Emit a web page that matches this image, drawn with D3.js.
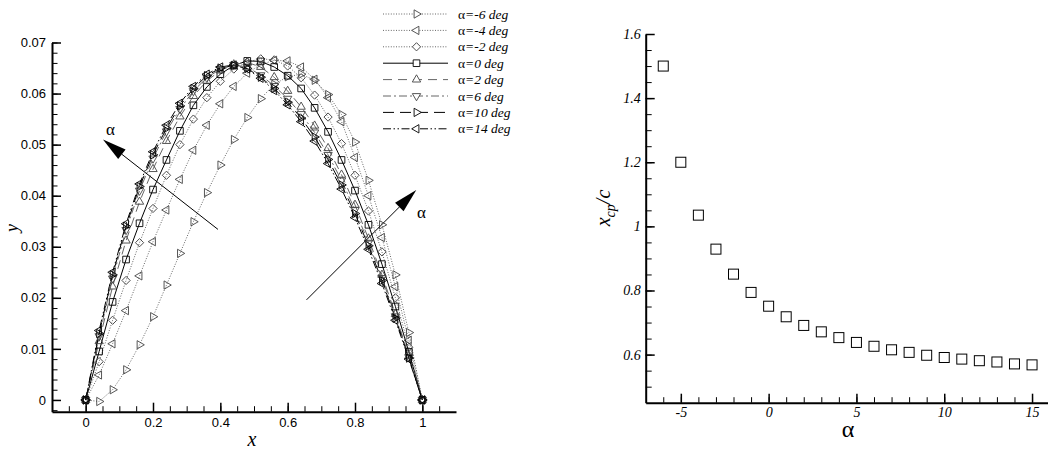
<!DOCTYPE html>
<html>
<head>
<meta charset="utf-8">
<script src="https://cdn.jsdelivr.net/npm/d3@7"></script>
<style>
  html, body { margin: 0; padding: 0; background: #fff; }
  svg { display: block; }
</style>
</head>
<body>
<svg id="chart" width="1048" height="450"></svg>
<script>
// ---- membrane shape data: y(x) for several angles of attack ----
const xStations = [0, 0.04, 0.08, 0.12, 0.16, 0.20, 0.24, 0.28, 0.32, 0.36, 0.40, 0.44, 0.48,
                   0.52, 0.56, 0.60, 0.64, 0.68, 0.72, 0.76, 0.80, 0.84, 0.88, 0.92, 0.96, 1.0];

const yAlphaM6 = [0, -0.0003, 0.0020, 0.0059, 0.0108, 0.0163, 0.0225, 0.0287, 0.0349, 0.0406, 0.0460, 0.0510, 0.0553,
                  0.0590, 0.0618, 0.0633, 0.0638, 0.0626, 0.0598, 0.0559, 0.0505, 0.0430, 0.0343, 0.0245, 0.0132, 0];
const yAlphaM4 = [0, 0.0049, 0.0110, 0.0175, 0.0243, 0.0310, 0.0372, 0.0432, 0.0489, 0.0538, 0.0580, 0.0614, 0.0640,
                  0.0657, 0.0665, 0.0664, 0.0652, 0.0628, 0.0592, 0.0545, 0.0475, 0.0400, 0.0318, 0.0222, 0.0117, 0];
const yAlphaM2 = [0, 0.0075, 0.0156, 0.0234, 0.0308, 0.0375, 0.0440, 0.0500, 0.0550, 0.0592, 0.0624, 0.0648, 0.0662,
                  0.0668, 0.0666, 0.0654, 0.0631, 0.0597, 0.0554, 0.0502, 0.0440, 0.0370, 0.0290, 0.0200, 0.0103, 0];
const yAlpha0  = [0, 0.0095, 0.0192, 0.0275, 0.0346, 0.0412, 0.0470, 0.0527, 0.0577, 0.0613, 0.0638, 0.0655, 0.0664,
                  0.0663, 0.0652, 0.0635, 0.0610, 0.0572, 0.0525, 0.0470, 0.0410, 0.0343, 0.0266, 0.0183, 0.0094, 0];
const yAlpha2  = [0, 0.0115, 0.0222, 0.0312, 0.0388, 0.0452, 0.0507, 0.0555, 0.0595, 0.0625, 0.0645, 0.0657, 0.0661,
                  0.0652, 0.0632, 0.0605, 0.0574, 0.0537, 0.0493, 0.0441, 0.0382, 0.0316, 0.0245, 0.0168, 0.0086, 0];
const yAlpha6  = [0, 0.0125, 0.0238, 0.0333, 0.0410, 0.0473, 0.0526, 0.0570, 0.0605, 0.0631, 0.0648, 0.0656, 0.0652,
                  0.0636, 0.0615, 0.0590, 0.0560, 0.0524, 0.0480, 0.0430, 0.0372, 0.0308, 0.0239, 0.0164, 0.0084, 0];
const yAlpha10 = [0, 0.0130, 0.0245, 0.0340, 0.0418, 0.0480, 0.0532, 0.0576, 0.0610, 0.0635, 0.0650, 0.0655, 0.0649,
                  0.0632, 0.0610, 0.0583, 0.0552, 0.0515, 0.0471, 0.0421, 0.0365, 0.0302, 0.0234, 0.0160, 0.0082, 0];
const yAlpha14 = [0, 0.0136, 0.0250, 0.0345, 0.0423, 0.0486, 0.0538, 0.0581, 0.0614, 0.0638, 0.0652, 0.0656, 0.0648,
                  0.0630, 0.0606, 0.0578, 0.0545, 0.0507, 0.0463, 0.0413, 0.0357, 0.0295, 0.0228, 0.0156, 0.0080, 0];

const seriesLabels = ["=-6 deg", "=-4 deg", "=-2 deg", "=0 deg", "=2 deg", "=6 deg", "=10 deg", "=14 deg"];

// ---- centre of pressure vs angle of attack ----
const cpAlpha = [-6, -5, -4, -3, -2, -1, 0, 1, 2, 3, 4, 5, 6, 7, 8, 9, 10, 11, 12, 13, 14, 15];
const cpXc    = [1.50, 1.20, 1.035, 0.929, 0.851, 0.794, 0.751, 0.718, 0.691, 0.671, 0.653,
                 0.638, 0.626, 0.615, 0.607, 0.598, 0.591, 0.586, 0.581, 0.577, 0.571, 0.568];

// ---- tick values ----
const shapeXTicks = [0, 0.2, 0.4, 0.6, 0.8, 1];
const shapeXTickLabels = ["0", "0.2", "0.4", "0.6", "0.8", "1"];
const shapeYTicks = [0, 0.01, 0.02, 0.03, 0.04, 0.05, 0.06, 0.07];
const shapeYTickLabels = ["0", "0.01", "0.02", "0.03", "0.04", "0.05", "0.06", "0.07"];
const cpXTicks = [-5, 0, 5, 10, 15];
const cpXTickLabels = ["-5", "0", "5", "10", "15"];
const cpYTicks = [0.6, 0.8, 1, 1.2, 1.4, 1.6];
const cpYTickLabels = ["0.6", "0.8", "1", "1.2", "1.4", "1.6"];

// ---- drawing ----
const svg = d3.select("#chart");
svg.append("rect").attr("width", 1048).attr("height", 450).attr("fill", "#fff");

const SANS = "'Liberation Sans', Arial, sans-serif";
const SERIF = "'Liberation Serif', 'Times New Roman', serif";

// series styling (line dash, colours, marker type)
const styles = [
  { y: yAlphaM6, dash: "1,1.6", line: "#666", mk: "#444", shape: "tri", rot: 90 },
  { y: yAlphaM4, dash: "1,1.6", line: "#666", mk: "#444", shape: "tri", rot: -90 },
  { y: yAlphaM2, dash: "1,1.6", line: "#666", mk: "#444", shape: "diamond", rot: 0 },
  { y: yAlpha0,  dash: null,    line: "#000", mk: "#000", shape: "square", rot: 0 },
  { y: yAlpha2,  dash: "9,6",   line: "#666", mk: "#444", shape: "tri", rot: 0 },
  { y: yAlpha6,  dash: "8,3,2,3", line: "#666", mk: "#444", shape: "tri", rot: 180 },
  { y: yAlpha10, dash: "11,6",  line: "#000", mk: "#000", shape: "tri", rot: 90 },
  { y: yAlpha14, dash: "8,2.5,1.5,2.5,1.5,2.5", line: "#000", mk: "#000", shape: "tri", rot: -90 }
];

function markerPath(shape) {
  if (shape === "tri") return d3.symbol(d3.symbolTriangle, 30)();
  if (shape === "diamond") return d3.symbol(d3.symbolSquare, 34)();
  return d3.symbol(d3.symbolSquare, 44)();
}
function markerRot(s) { return s.shape === "diamond" ? 45 : s.rot; }

// ===== left panel: shape =====
const xS = d3.scaleLinear().domain([-0.1, 1.1]).range([52, 456]);
const yS = d3.scaleLinear().domain([-0.0023, 0.07]).range([411.7, 42.5]);

const gL = svg.append("g");

function styleAxis(g, w) {
  g.select(".domain").attr("stroke", "#000").attr("stroke-width", w);
  g.selectAll(".tick line").attr("stroke", "#000").attr("stroke-width", 1.5);
}

// minor ticks
gL.append("g").attr("transform", "translate(0,411.7)")
  .call(d3.axisBottom(xS).tickValues(d3.range(-0.05, 1.1, 0.05)).tickSize(-5.5).tickFormat(""))
  .call(g => { g.select(".domain").remove(); g.selectAll(".tick line").attr("stroke", "#000").attr("stroke-width", 1); });
gL.append("g").attr("transform", "translate(52,0)")
  .call(d3.axisLeft(yS).tickValues(d3.range(-0.002, 0.0701, 0.002)).tickSize(-5.5).tickFormat(""))
  .call(g => { g.select(".domain").remove(); g.selectAll(".tick line").attr("stroke", "#000").attr("stroke-width", 1); });

// major axes
gL.append("g").attr("transform", "translate(0,411.7)")
  .call(d3.axisBottom(xS).tickValues(shapeXTicks).tickSize(-9).tickSizeOuter(0).tickPadding(6)
        .tickFormat((d, i) => shapeXTickLabels[i]))
  .call(g => styleAxis(g, 2))
  .call(g => g.selectAll("text").attr("font-family", SANS).attr("font-size", 13).attr("fill", "#000"));
gL.append("g").attr("transform", "translate(52,0)")
  .call(d3.axisLeft(yS).tickValues(shapeYTicks).tickSize(-9).tickSizeOuter(0).tickPadding(6)
        .tickFormat((d, i) => shapeYTickLabels[i]))
  .call(g => styleAxis(g, 2))
  .call(g => g.selectAll("text").attr("font-family", SANS).attr("font-size", 13).attr("fill", "#000"));

gL.append("text").attr("x", 252).attr("y", 446).attr("text-anchor", "middle")
  .attr("font-family", SERIF).attr("font-style", "italic").attr("font-size", 20).text("x");
gL.append("text").attr("transform", "translate(18,228) rotate(-90)").attr("text-anchor", "middle")
  .attr("font-family", SERIF).attr("font-style", "italic").attr("font-size", 18).text("y");

// curves
const line = d3.line().x((d, i) => xS(xStations[i])).y(d => yS(d));
styles.forEach(s => {
  gL.append("path").datum(s.y).attr("d", line).attr("fill", "none")
    .attr("stroke", s.line).attr("stroke-width", 1)
    .attr("stroke-dasharray", s.dash);
});
styles.forEach(s => {
  gL.append("g").selectAll("path").data(s.y).join("path")
    .attr("d", markerPath(s.shape))
    .attr("transform", (d, i) => `translate(${xS(xStations[i])},${yS(d)}) rotate(${markerRot(s)})`)
    .attr("fill", "none").attr("stroke", s.mk).attr("stroke-width", 0.9);
});

// trend arrows
function arrow(x0, y0, x1, y1) {
  const p0 = [xS(x0), yS(y0)], p1 = [xS(x1), yS(y1)];
  const ang = Math.atan2(p1[1] - p0[1], p1[0] - p0[0]);
  const L = 24, W = 6;
  const bx = p1[0] - L * Math.cos(ang), by = p1[1] - L * Math.sin(ang);
  gL.append("line").attr("x1", p0[0]).attr("y1", p0[1]).attr("x2", bx).attr("y2", by)
    .attr("stroke", "#000").attr("stroke-width", 1);
  const nx = -Math.sin(ang) * W, ny = Math.cos(ang) * W;
  gL.append("path")
    .attr("d", `M${p1[0]},${p1[1]}L${bx + nx},${by + ny}L${bx - nx},${by - ny}Z`)
    .attr("fill", "#000");
}
arrow(0.393, 0.0334, 0.0514, 0.0510);
arrow(0.656, 0.0196, 0.982, 0.0411);
gL.append("text").attr("x", 106).attr("y", 135).attr("font-family", SERIF).attr("font-size", 17).text("α");
gL.append("text").attr("x", 417).attr("y", 218).attr("font-family", SERIF).attr("font-size", 17).text("α");

// legend
const lg = svg.append("g");
styles.forEach((s, i) => {
  const y = 14 + i * 16.4;
  lg.append("line").attr("x1", 383).attr("x2", 448).attr("y1", y).attr("y2", y)
    .attr("stroke", s.line).attr("stroke-width", 1).attr("stroke-dasharray", s.dash);
  lg.append("path").attr("d", markerPath(s.shape))
    .attr("transform", `translate(416.5,${y}) rotate(${markerRot(s)})`)
    .attr("fill", "#fff").attr("stroke", s.mk).attr("stroke-width", 0.9);
  const t = lg.append("text").attr("x", 458).attr("y", y + 4.5)
    .attr("font-family", SERIF).attr("font-size", 13.5).attr("fill", "#000");
  t.append("tspan").text("α");
  t.append("tspan").attr("font-style", "italic").text(seriesLabels[i]);
});

// ===== right panel: centre of pressure =====
const xA = d3.scaleLinear().domain([-7, 16]).range([645.7, 1049.6]);
const yA = d3.scaleLinear().domain([0.45, 1.6]).range([402.7, 34]);

const gR = svg.append("g");
gR.append("g").attr("transform", "translate(0,402.7)")
  .call(d3.axisBottom(xA).tickValues(d3.range(-6, 16, 1)).tickSize(-5.5).tickFormat(""))
  .call(g => { g.select(".domain").remove(); g.selectAll(".tick line").attr("stroke", "#000").attr("stroke-width", 1); });
gR.append("g").attr("transform", "translate(645.7,0)")
  .call(d3.axisLeft(yA).tickValues(d3.range(0.5, 1.6, 0.05)).tickSize(-6).tickFormat(""))
  .call(g => { g.select(".domain").remove(); g.selectAll(".tick line").attr("stroke", "#000").attr("stroke-width", 1); });

gR.append("g").attr("transform", "translate(0,402.7)")
  .call(d3.axisBottom(xA).tickValues(cpXTicks).tickSize(-9).tickSizeOuter(0).tickPadding(4)
        .tickFormat((d, i) => cpXTickLabels[i]))
  .call(g => styleAxis(g, 2))
  .call(g => g.selectAll("text").attr("font-family", SERIF).attr("font-style", "italic")
                .attr("font-size", 14).attr("fill", "#000"));
gR.append("g").attr("transform", "translate(645.7,0)")
  .call(d3.axisLeft(yA).tickValues(cpYTicks).tickSize(-9).tickSizeOuter(0).tickPadding(5)
        .tickFormat((d, i) => cpYTickLabels[i]))
  .call(g => styleAxis(g, 2))
  .call(g => g.selectAll("text").attr("font-family", SERIF).attr("font-style", "italic")
                .attr("font-size", 14).attr("fill", "#000"));

gR.append("text").attr("x", 848).attr("y", 437).attr("text-anchor", "middle")
  .attr("font-family", SERIF).attr("font-size", 24).text("α");

const yl = gR.append("text").attr("transform", "translate(610,208) rotate(-90)").attr("text-anchor", "middle")
  .attr("font-family", SERIF).attr("font-style", "italic").attr("font-size", 20);
yl.append("tspan").text("x");
yl.append("tspan").attr("font-size", 14).attr("dy", 5).text("cp");
yl.append("tspan").attr("dy", -5).text("/c");

gR.selectAll("rect.cp").data(cpXc).join("rect").attr("class", "cp")
  .attr("x", (d, i) => xA(cpAlpha[i]) - 5).attr("y", d => yA(d) - 5)
  .attr("width", 10).attr("height", 10)
  .attr("fill", "none").attr("stroke", "#000").attr("stroke-width", 1);
</script>
</body>
</html>
